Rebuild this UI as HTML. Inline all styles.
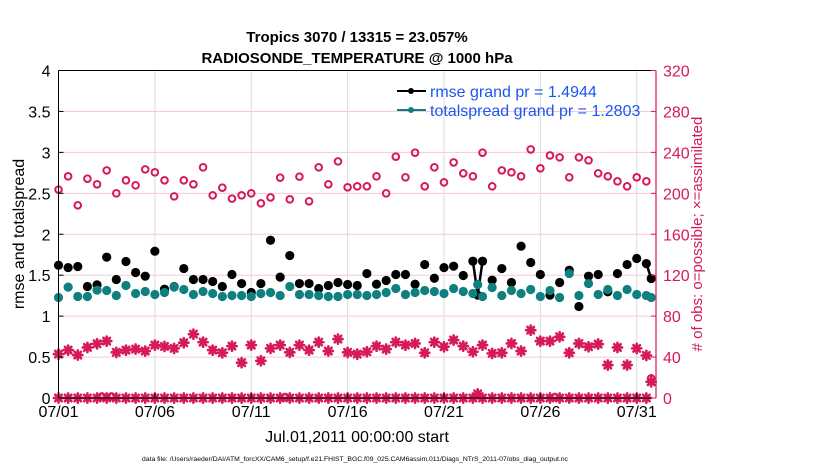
<!DOCTYPE html>
<html><head><meta charset="utf-8"><style>
body{margin:0;background:#fff;width:830px;height:470px;overflow:hidden}
svg text{font-family:"Liberation Sans",Arial,sans-serif}
</style></head><body>
<svg id="chart" width="830" height="470" xmlns="http://www.w3.org/2000/svg">
<g id="grid"></g>
<g id="marks"></g>
<g id="axes"></g>
<text x="357" y="42" text-anchor="middle" font-size="15" font-weight="bold">Tropics 3070 / 13315 = 23.057%</text>
<text x="357" y="63" text-anchor="middle" font-size="15" font-weight="bold">RADIOSONDE_TEMPERATURE @ 1000 hPa</text>
<text transform="translate(24,234) rotate(-90)" text-anchor="middle" font-size="16">rmse and totalspread</text>
<text transform="translate(702,234) rotate(-90)" text-anchor="middle" font-size="15" fill="#d6195a">#&#160;of obs: o=possible; ×=assimilated</text>
<text x="357" y="442" text-anchor="middle" font-size="16">Jul.01,2011 00:00:00 start</text>
<text x="355" y="461" text-anchor="middle" font-size="6.8">data file: /Users/raeder/DAI/ATM_forcXX/CAM6_setup/f.e21.FHIST_BGC.f09_025.CAM6assim.011/Diags_NTrS_2011-07/obs_diag_output.nc</text>
<g>
<line x1="397" y1="91" x2="426" y2="91" stroke="#000" stroke-width="2"/><circle cx="411" cy="91" r="3" fill="#000"/>
<text x="430" y="97" font-size="16" fill="#1a56f0">rmse grand pr = 1.4944</text>
<line x1="397" y1="110" x2="426" y2="110" stroke="#0f8080" stroke-width="2"/><circle cx="411" cy="110" r="3" fill="#0f8080"/>
<text x="430" y="116" font-size="16" fill="#1a56f0">totalspread grand pr = 1.2803</text>
</g>
</svg>
<script>
const rmse=[1.622,1.593,1.606,1.362,1.382,1.72,1.447,1.667,1.533,1.488,1.793,1.329,1.36,1.581,1.447,1.447,1.423,1.362,1.508,1.398,1.289,1.398,1.927,1.476,1.74,1.398,1.398,1.337,1.374,1.411,1.386,
1.374,1.520,1.390,1.435,1.508,1.508,1.390,1.630,1.463,1.593,1.610,1.496,1.671,1.671,1.439,1.581,1.411,1.854,1.655,1.508,1.256,1.411,1.561,1.118,1.488,1.508,1.297,1.520,1.630,1.704,1.642];
const spread=[1.228,1.354,1.240,1.240,1.317,1.313,1.252,1.374,1.276,1.301,1.264,1.289,1.354,1.325,1.264,1.301,1.276,1.240,1.252,1.252,1.240,1.276,1.289,1.252,1.362,1.264,1.264,1.252,1.240,1.240,1.264,
1.264,1.252,1.264,1.289,1.337,1.264,1.289,1.313,1.301,1.276,1.337,1.301,1.276,1.240,1.350,1.252,1.313,1.276,1.325,1.240,1.313,1.228,1.520,1.252,1.398,1.264,1.325,1.252,1.325,1.264,1.252];
const possible=[203.6,216.6,188.3,214.3,208.8,222.4,200,212.7,207.8,223.4,220.5,212.7,197,212.7,208.8,225.4,198,205.5,194.8,198,200,190.2,196,215.3,194.1,216.3,192.2,225.4,208.8,231.2,205.9,
206.8,206.8,216.6,200,235.8,215.6,239.7,206.8,225.4,210.7,230.2,219.5,216.6,239.7,206.8,222.4,220.5,216.6,242.9,224.4,237,235.1,215.6,235.1,232.2,219.5,216.6,211.7,206.8,215.6,211.7];
const assimilated=[42.9,46.8,42,49.4,53,55.6,44.6,46.8,47.8,45.9,51.7,50.4,48.5,54,62.4,54.6,46.8,44.2,50.7,34.5,51.7,36.4,48.5,51.7,44.6,51.7,46.8,54.6,45.9,57.6,44.6,
42.9,45.2,50.7,47.8,54.6,51.7,53.3,44.2,54.6,50.1,56.6,50.7,45.2,51.7,43.6,44.2,53.3,45.9,66.3,55.6,55.6,59.8,44.2,53.3,50.1,52.7,32.2,49.4,32.2,48.5,41.6];
const extraIdx=[43.5,61.5];
const extraRmse=[1.256,1.459];
const extraSpread=[1.386,1.228];
const extraPossible=[0,19.2];
const extraAssim=[4,15.9];
const lowPossibleIdx=[4.5,5.5,23.5,51.5];
const lowPossibleVal=[1.5,1.5,1,1];
const xTickDays=[0,5,10,15,20,25,30];
const xTickLabels=["07/01","07/06","07/11","07/16","07/21","07/26","07/31"];
const yTicks=[0,0.5,1,1.5,2,2.5,3,3.5,4];
const yTickLabels=["0","0.5","1","1.5","2","2.5","3","3.5","4"];
const y2Ticks=[0,40,80,120,160,200,240,280,320];

const X0=58.5,X1=656,Y0=398,Y1=70.5,DAYS=31;
const xs=d=>X0+(d/DAYS)*(X1-X0);
const xi=i=>xs(i*0.5);
const ys=v=>Y0-(v/4)*(Y0-Y1);
const y2=c=>Y0-(c/320)*(Y0-Y1);
const NS="http://www.w3.org/2000/svg";
const RED="#d6195a",TEAL="#0f8080";
function mk(tag,parent,attrs){const e=document.createElementNS(NS,tag);for(const k in attrs)e.setAttribute(k,attrs[k]);parent.appendChild(e);return e;}
const grid=document.getElementById('grid'),marks=document.getElementById('marks'),axes=document.getElementById('axes');

y2Ticks.forEach(c=>{if(c>0&&c<320){const l=mk('line',grid,{x1:X0,x2:X1,y1:y2(c),y2:y2(c),stroke:'#f4c9d8','stroke-width':1});

}});
xTickDays.forEach(d=>{if(d>0){const l=mk('line',grid,{x1:xs(d),x2:xs(d),y1:Y1,y2:Y0,stroke:'#dcdcdc','stroke-width':1});

}});

function star(cx,cy,name){const g=mk('g',marks,{stroke:RED,'stroke-width':2.6,'stroke-linecap':'round'});


const r=4.6;for(let k=0;k<4;k++){const a=k*Math.PI/4;mk('line',g,{x1:cx-r*Math.cos(a),y1:cy-r*Math.sin(a),x2:cx+r*Math.cos(a),y2:cy+r*Math.sin(a)});}
mk('circle',g,{cx:cx,cy:cy,r:3,fill:RED,stroke:'none'});}
function ring(cx,cy,name){const c=mk('circle',marks,{cx:cx,cy:cy,r:3.3,fill:'none',stroke:RED,'stroke-width':2});

}
function dot(cx,cy,col,name){const c=mk('circle',marks,{cx:cx,cy:cy,r:4.6,fill:col});

}

for(let i=0;i<62;i++){star(xi(i),y2(0),'assimilated-zero-point');}
lowPossibleIdx.forEach((i,k)=>ring(xi(i),y2(lowPossibleVal[k]),'possible-low-point'));
possible.forEach((v,i)=>ring(xi(i),y2(v),'possible-point'));
assimilated.forEach((v,i)=>star(xi(i),y2(v),'assimilated-point'));
extraIdx.forEach((i,k)=>{star(xi(i),y2(extraAssim[k]),'assimilated-point');if(extraPossible[k]>0)ring(xi(i),y2(extraPossible[k]),'possible-point');});

const segs=[[43,0,43.5,0],[43.5,0,44,1],[61,0,61.5,1]];
function rv(i){const k=extraIdx.indexOf(i);return k>=0?extraRmse[k]:rmse[i];}
segs.forEach(s=>{const l=mk('line',marks,{x1:xi(s[0]),y1:ys(rv(s[0])),x2:xi(s[2]),y2:ys(rv(s[2])),stroke:'#000','stroke-width':2.5});

});
rmse.forEach((v,i)=>dot(xi(i),ys(v),'#000','rmse-point'));
extraIdx.forEach((i,k)=>dot(xi(i),ys(extraRmse[k]),'#000','rmse-point'));
spread.forEach((v,i)=>dot(xi(i),ys(v),TEAL,'totalspread-point'));
extraIdx.forEach((i,k)=>dot(xi(i),ys(extraSpread[k]),TEAL,'totalspread-point'));

let a=mk('line',axes,{x1:X0,x2:X0,y1:Y1,y2:Y0,stroke:'#000','stroke-width':1});


a=mk('line',axes,{x1:X0,x2:X1,y1:Y0,y2:Y0,stroke:'#000','stroke-width':1});


a=mk('line',axes,{x1:X0,x2:X1,y1:Y1,y2:Y1,stroke:'#000','stroke-width':1});


a=mk('line',axes,{x1:X1,x2:X1,y1:Y1,y2:Y0,stroke:RED,'stroke-width':1.2});


yTicks.forEach((v,k)=>{mk('line',axes,{x1:X0,x2:X0+5,y1:ys(v),y2:ys(v),stroke:'#000'});
const t=mk('text',axes,{x:X0-8,y:ys(v)+6,'text-anchor':'end','font-size':16});t.textContent=yTickLabels[k];

});
y2Ticks.forEach(c=>{mk('line',axes,{x1:X1-5,x2:X1,y1:y2(c),y2:y2(c),stroke:RED});
const t=mk('text',axes,{x:X1+7,y:y2(c)+6,'font-size':16,fill:RED});t.textContent=String(c);

});
xTickDays.forEach((d,k)=>{mk('line',axes,{x1:xs(d),x2:xs(d),y1:Y0,y2:Y0-5,stroke:'#000'});
const t=mk('text',axes,{x:xs(d),y:Y0+19,'text-anchor':'middle','font-size':16});t.textContent=xTickLabels[k];

});
</script>
</body></html>
